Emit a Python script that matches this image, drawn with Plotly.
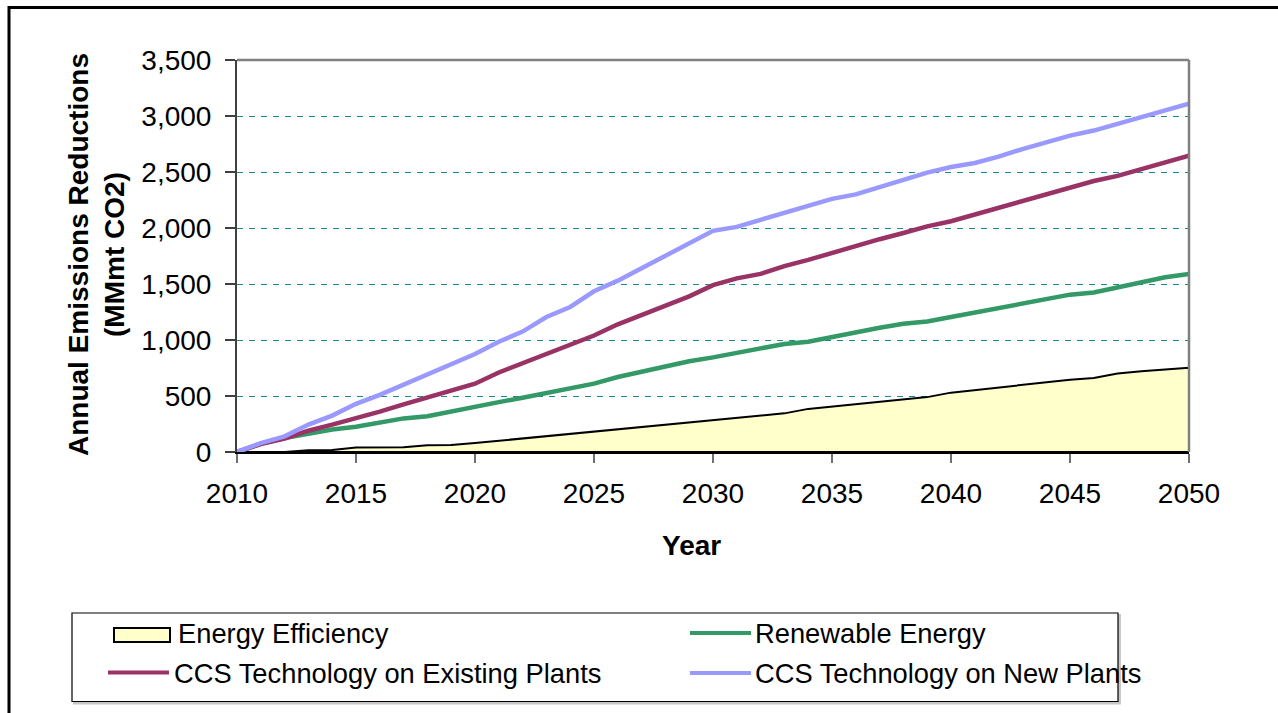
import plotly.graph_objects as go

# ---- data -------------------------------------------------------------
years = list(range(2010, 2051))

energy_efficiency = [0, 0, 0, 15, 18, 40, 40, 42, 60, 62,
                     80, 100, 120, 140, 160, 180, 200, 220, 240, 262,
                     285, 305, 325, 345, 385, 405, 425, 445, 465, 490,
                     530, 554, 577, 600, 622, 645, 660, 700, 720, 738,
                     752]

renewable_energy = [0, 75, 125, 165, 200, 225, 260, 300, 320, 365,
                    405, 445, 485, 530, 570, 610, 670, 720, 765, 810,
                    845, 885, 925, 965, 985, 1030, 1070, 1110, 1145, 1165,
                    1205, 1245, 1285, 1325, 1365, 1405, 1425, 1470, 1515, 1560,
                    1590]

ccs_existing = [0, 70, 120, 190, 245, 300, 360, 425, 485, 550,
                610, 710, 790, 870, 950, 1040, 1140, 1225, 1305, 1390,
                1490, 1550, 1590, 1660, 1715, 1780, 1835, 1900, 1955, 2015,
                2060, 2120, 2180, 2245, 2305, 2365, 2420, 2465, 2525, 2590,
                2645]

ccs_new = [0, 80, 140, 245, 325, 430, 510, 600, 700, 780,
           875, 985, 1075, 1205, 1295, 1435, 1530, 1640, 1755, 1860,
           1975, 2010, 2075, 2140, 2200, 2260, 2300, 2370, 2430, 2495,
           2545, 2580, 2637, 2705, 2765, 2825, 2870, 2935, 2990, 3050,
           3110]

x_ticks = [2010, 2015, 2020, 2025, 2030, 2035, 2040, 2045, 2050]
y_ticks = [0, 500, 1000, 1500, 2000, 2500, 3000, 3500]
y_tick_labels = ["0", "500", "1,000", "1,500", "2,000", "2,500", "3,000", "3,500"]

series_names = ["Energy Efficiency", "Renewable Energy",
                "CCS Technology on Existing Plants", "CCS Technology on New Plants"]

# ---- styling ----------------------------------------------------------
FONT = "Liberation Sans, Arial, sans-serif"
FS_TICK = 28
FS_TITLE = 28
FS_LEG = 27.3
C_FILL = "#FFFFCC"
C_GREEN = "#339966"
C_PURPLE = "#993366"
C_BLUE = "#9999FF"
C_GRID = "#1a8a8a"

W, H = 1278, 713
L, R, T, B = 237, 1189, 60, 452          # plot-area pixel box


def px(x):
    return (x - L) / (R - L)


def py(y):
    return (B - y) / (B - T)


fig = go.Figure()

# Energy Efficiency as a closed, outlined area down to zero
fig.add_trace(go.Scatter(
    x=years + [years[-1], years[0]],
    y=energy_efficiency + [0, 0],
    fill="toself", fillcolor=C_FILL,
    mode="lines", line=dict(color="black", width=2),
    name=series_names[0], showlegend=False, hoverinfo="skip",
))
fig.add_trace(go.Scatter(x=years, y=renewable_energy, mode="lines",
                         line=dict(color=C_GREEN, width=4.5),
                         name=series_names[1], showlegend=False))
fig.add_trace(go.Scatter(x=years, y=ccs_existing, mode="lines",
                         line=dict(color=C_PURPLE, width=4.5),
                         name=series_names[2], showlegend=False))
fig.add_trace(go.Scatter(x=years, y=ccs_new, mode="lines",
                         line=dict(color=C_BLUE, width=4.5),
                         name=series_names[3], showlegend=False))

fig.update_xaxes(
    range=[2010, 2050], tickvals=x_ticks, ticks="outside", ticklen=9,
    tickcolor="#707070", tickwidth=1.5, showline=True, linecolor="black",
    linewidth=2, showgrid=False, zeroline=False,
    tickfont=dict(family=FONT, size=FS_TICK, color="black"),
    ticklabelstandoff=6,
)
fig.update_yaxes(
    range=[0, 3500], tickvals=y_ticks, ticktext=y_tick_labels,
    ticks="outside", ticklen=10, tickcolor="#404040", tickwidth=1.5,
    showline=True, linecolor="#404040", linewidth=2,
    showgrid=True, gridcolor=C_GRID, gridwidth=1, griddash="6px,6px",
    zeroline=False,
    tickfont=dict(family=FONT, size=FS_TICK, color="black"),
    ticklabelstandoff=8,
)

shapes = []
# grey frame on the top and right of the plot area
shapes.append(dict(type="line", xref="paper", yref="paper",
                   x0=0, x1=1, y0=1, y1=1,
                   line=dict(color="#808080", width=2.5), layer="above"))
shapes.append(dict(type="line", xref="paper", yref="paper",
                   x0=1, x1=1, y0=0, y1=1,
                   line=dict(color="#808080", width=2.5), layer="above"))
# outer chart border
shapes.append(dict(type="rect", xref="paper", yref="paper",
                   x0=px(9), x1=px(1300), y0=py(730), y1=py(7.5),
                   line=dict(color="black", width=3), fillcolor="rgba(0,0,0,0)"))
# legend box with a soft shadow
shapes.append(dict(type="rect", xref="paper", yref="paper",
                   x0=px(74), x1=px(1120), y0=py(703.5), y1=py(615),
                   line=dict(color="#c8c8c8", width=2), fillcolor="#c8c8c8"))
shapes.append(dict(type="rect", xref="paper", yref="paper",
                   x0=px(72), x1=px(1118), y0=py(701.5), y1=py(613),
                   line=dict(color="black", width=1.2), fillcolor="white"))
# legend swatches
shapes.append(dict(type="rect", xref="paper", yref="paper",
                   x0=px(114), x1=px(170), y0=py(642), y1=py(628),
                   line=dict(color="black", width=2), fillcolor=C_FILL))
shapes.append(dict(type="line", xref="paper", yref="paper",
                   x0=px(108), x1=px(169), y0=py(672.5), y1=py(672.5),
                   line=dict(color=C_PURPLE, width=4)))
shapes.append(dict(type="line", xref="paper", yref="paper",
                   x0=px(690), x1=px(751), y0=py(633), y1=py(633),
                   line=dict(color=C_GREEN, width=4)))
shapes.append(dict(type="line", xref="paper", yref="paper",
                   x0=px(690), x1=px(751), y0=py(673), y1=py(673),
                   line=dict(color=C_BLUE, width=4)))

annotations = [
    dict(text="<b>Annual Emissions Reductions<br>(MMmt CO2)</b>",
         xref="paper", yref="paper", x=px(96), y=py(255),
         xanchor="center", yanchor="middle", textangle=-90, showarrow=False,
         font=dict(family=FONT, size=FS_TITLE, color="black")),
    dict(text="<b>Year</b>", xref="paper", yref="paper",
         x=px(691), y=py(545), xanchor="center", yanchor="middle",
         showarrow=False, font=dict(family=FONT, size=FS_TITLE, color="black")),
]
legend_text_pos = [(176, 633), (753, 633), (172, 673), (753, 673)]
for name, (tx, ty) in zip(series_names, legend_text_pos):
    annotations.append(dict(text=name, xref="paper", yref="paper",
                            x=px(tx), y=py(ty), xanchor="left", yanchor="middle",
                            showarrow=False,
                            font=dict(family=FONT, size=FS_LEG, color="black")))

fig.update_layout(
    width=W, height=H, autosize=False,
    margin=dict(l=L, r=W - R, t=T, b=H - B, pad=0),
    paper_bgcolor="white", plot_bgcolor="white",
    shapes=shapes, annotations=annotations, showlegend=False,
)

fig.write_html("out.html")
